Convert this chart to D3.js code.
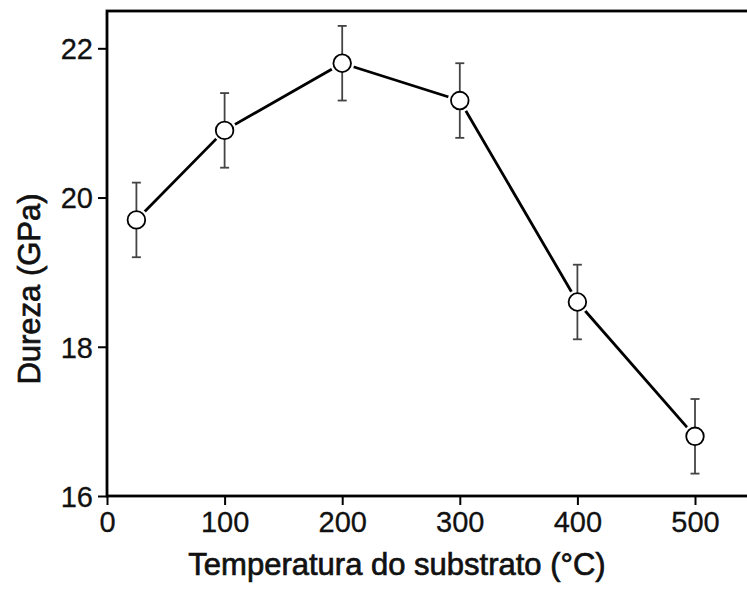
<!DOCTYPE html>
<html>
<head>
<meta charset="utf-8">
<script src="https://cdn.jsdelivr.net/npm/d3@7"></script>
<style>
  html, body { margin: 0; padding: 0; background: #fff; }
  svg { display: block; }
  text { font-family: "Liberation Sans", Arial, sans-serif; fill: #111; }
</style>
</head>
<body>
<svg id="chart" width="747" height="590"></svg>
<script>
// Hardness vs substrate temperature
const temperatures = [25, 100, 200, 300, 400, 500];
const hardness     = [19.7, 20.9, 21.8, 21.3, 18.6, 16.8];
const hardnessErr  = [0.5, 0.5, 0.5, 0.5, 0.5, 0.5];
const xTicks = [0, 100, 200, 300, 400, 500];
const yTicks = [16, 18, 20, 22];
const xTitle = "Temperatura do substrato (°C)";
const yTitle = "Dureza (GPa)";

const svg = d3.select("#chart");
const plot = { left: 107, top: 11, bottom: 496 };

const x = d3.scaleLinear().domain([0, 550]).range([plot.left, plot.left + 550 * 1.176]);
const y = d3.scaleLinear().domain([16, 22.5]).range([plot.bottom, plot.top]);

const data = temperatures.map((t, i) => ({ t, v: hardness[i], e: hardnessErr[i] }));

// frame (right edge runs past the visible area)
svg.append("rect")
  .attr("x", x(0)).attr("y", y(22.5))
  .attr("width", x(550) - x(0)).attr("height", y(16) - y(22.5))
  .attr("fill", "none").attr("stroke", "#000").attr("stroke-width", 2.8);

// axes
const xAxis = svg.append("g")
  .attr("transform", `translate(0,${y(16)})`)
  .call(d3.axisBottom(x).tickValues(xTicks).tickSize(9).tickPadding(6).tickFormat(d3.format("d")));
const yAxis = svg.append("g")
  .attr("transform", `translate(${x(0)},0)`)
  .call(d3.axisLeft(y).tickValues(yTicks).tickSize(9).tickPadding(5).tickFormat(d3.format("d")));

[xAxis, yAxis].forEach(g => {
  g.select(".domain").remove();
  g.selectAll(".tick line").attr("stroke", "#000").attr("stroke-width", 2);
  g.selectAll(".tick text")
    .attr("font-family", "'Liberation Sans', Arial, sans-serif")
    .attr("font-size", 29).attr("fill", "#111")
    .attr("stroke", "#111").attr("stroke-width", 0.3);
});
xAxis.selectAll(".tick text").attr("dy", "0.74em");
yAxis.selectAll(".tick text").attr("dy", "0.36em");

// connecting line
const line = d3.line().x(d => x(d.t)).y(d => y(d.v));
svg.append("path").datum(data)
  .attr("d", line).attr("fill", "none")
  .attr("stroke", "#000").attr("stroke-width", 2.8).attr("stroke-linejoin", "round");

// white halo so the line stops short of each marker
svg.selectAll("circle.halo").data(data).join("circle")
  .attr("class", "halo")
  .attr("cx", d => x(d.t)).attr("cy", d => y(d.v)).attr("r", 12)
  .attr("fill", "#fff");

// error bars
const eb = svg.append("g").attr("stroke", "#444").attr("stroke-width", 1.8);
data.forEach(d => {
  eb.append("line").attr("x1", x(d.t)).attr("x2", x(d.t))
    .attr("y1", y(d.v + d.e)).attr("y2", y(d.v - d.e));
  [d.v + d.e, d.v - d.e].forEach(v => {
    eb.append("line").attr("x1", x(d.t) - 4.5).attr("x2", x(d.t) + 4.5)
      .attr("y1", y(v)).attr("y2", y(v));
  });
});

// markers
svg.selectAll("circle.pt").data(data).join("circle")
  .attr("class", "pt")
  .attr("cx", d => x(d.t)).attr("cy", d => y(d.v)).attr("r", 8.8)
  .attr("fill", "#fff").attr("stroke", "#000").attr("stroke-width", 1.8);

// axis titles
svg.append("text")
  .attr("x", 397).attr("y", 575)
  .attr("text-anchor", "middle").attr("font-size", 31)
  .attr("stroke", "#111").attr("stroke-width", 0.7)
  .text(xTitle);
svg.append("text")
  .attr("transform", `translate(40,289) rotate(-90)`)
  .attr("text-anchor", "middle").attr("font-size", 31)
  .attr("stroke", "#111").attr("stroke-width", 0.7)
  .text(yTitle);
</script>
</body>
</html>
